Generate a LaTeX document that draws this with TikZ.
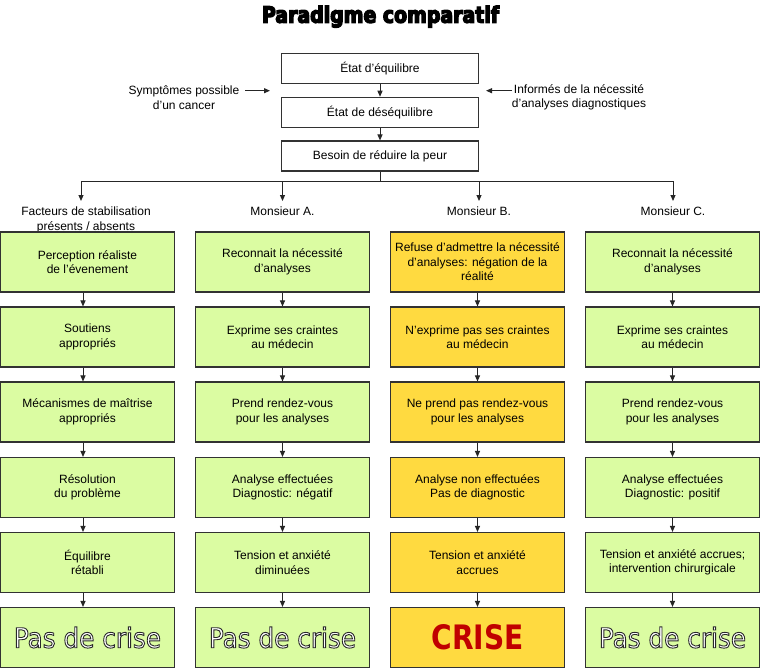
\documentclass[tikz,border=0pt]{standalone}
\usepackage{fontspec}
\usepackage{graphicx}
\setmainfont{Liberation Sans}
\newfontfamily\condfont{DejaVu Sans Condensed}
\usetikzlibrary{arrows.meta}
\definecolor{boxgreen}{RGB}{219,252,162}
\definecolor{boxyellow}{RGB}{255,218,64}
\definecolor{edgec}{RGB}{50,50,50}
\definecolor{crisered}{RGB}{192,0,0}
\newcommand\pdcOutline[1]{{\color{white}%
  \special{pdf:literal direct 2 Tr 0.9 w 0.16 0.16 0.16 RG}%
  #1%
  \special{pdf:literal direct 0 Tr}}}
\newcommand\pdcHeavy[1]{{%
  \special{pdf:literal direct 2 Tr 0.7 w 0 0 0 RG}%
  #1%
  \special{pdf:literal direct 0 Tr}}}
\newcommand\pasdecrise{\pdcOutline{\condfont\fontsize{27.5}{30}\selectfont Pas de crise}}
\begin{document}
\begin{tikzpicture}[x=1pt,y=-1pt,
  every node/.style={font=\fontsize{12}{14.5}\selectfont},
  topbox/.style={draw=edgec,line width=1.1pt,fill=white,minimum width=197pt,minimum height=30pt,inner sep=0pt},
  gbox/.style={draw=edgec,line width=1.1pt,fill=boxgreen,minimum width=174pt,minimum height=60pt,inner sep=0pt,align=center},
  ybox/.style={gbox,fill=boxyellow},
  hdr/.style={anchor=north,inner xsep=0pt,inner ysep=6pt,align=center},
  side/.style={align=center,inner sep=0pt},
  conn/.style={draw=black!85,line width=1pt},
  arr/.style={conn,-{Triangle[length=6pt,width=5pt]}},
]
\useasboundingbox[fill=white] (0,0) rectangle (761,669);

% title
\node[inner sep=0pt,anchor=base] (title) at (380.5,22.7)
  {\resizebox{237pt}{17pt}{\pdcHeavy{\condfont\bfseries Paradigme comparatif}}};

% top chain
\node[topbox] (t1) at (380,68.3) {État d'équilibre};
\node[topbox] (t2) at (380,112.3) {État de déséquilibre};
\node[topbox] (t3) at (380,156) {Besoin de réduire la peur};
\draw[arr] (t1.south) -- (t2.north);
\draw[arr] (t2.south) -- (t3.north);

% side labels
\node[side] (sl) at (184,97.5) {Symptômes possible\\d’un cancer};
\coordinate (sla) at (245,90.7);
\coordinate (slb) at (270,90.7);
\draw[arr] (sla) -- (slb);
\node[side] (sr) at (579,97.5) {Informés de la nécessité\\d’analyses diagnostiques};
\coordinate (sra) at (512,90.7);
\coordinate (srb) at (486,90.7);
\draw[arr] (sra) -- (srb);

% distribution
\coordinate (j) at (380,181);
\coordinate (c1) at (81,181);
\coordinate (c2) at (282.5,181);
\coordinate (c3) at (479,181);
\coordinate (c4) at (673,181);
\draw[conn] (t3.south) -- (j);
\draw[conn] (c1) -- (c4);

\node[hdr] (h1) at (86,201) {Facteurs de stabilisation\\présents / absents};
\node[hdr] (h2) at (282.5,201) {Monsieur A.};
\node[hdr] (h3) at (479,201) {Monsieur B.};
\node[hdr] (h4) at (673,201) {Monsieur C.};
\draw[arr] (c1) -- (c1 |- h1.north);
\draw[arr] (c2) -- (c2 |- h2.north);
\draw[arr] (c3) -- (c3 |- h3.north);
\draw[arr] (c4) -- (c4 |- h4.north);

% column 1
\node[gbox] (a1) at (87.5,262) {Perception réaliste\\de l’évenement};
\node[gbox] (a2) at (87.5,337) {Soutiens\\appropriés};
\node[gbox] (a3) at (87.5,412) {Mécanismes de maîtrise\\appropriés};
\node[gbox] (a4) at (87.5,487.5) {Résolution\\du problème};
\node[gbox] (a5) at (87.5,562.5) {Équilibre\\rétabli};
\node[gbox] (a6) at (87.5,637.5) {\pasdecrise};

% column 2
\node[gbox] (b1) at (282.5,262) {Reconnait la nécessité\\d’analyses};
\node[gbox] (b2) at (282.5,337) {Exprime ses craintes\\au médecin};
\node[gbox] (b3) at (282.5,412) {Prend rendez-vous\\pour les analyses};
\node[gbox] (b4) at (282.5,487.5) {Analyse effectuées\\Diagnostic: négatif};
\node[gbox] (b5) at (282.5,562.5) {Tension et anxiété\\diminuées};
\node[gbox] (b6) at (282.5,637.5) {\pasdecrise};

% column 3
\node[ybox] (y1) at (477.5,262) {Refuse d’admettre la nécessité\\d’analyses: négation de la\\réalité};
\node[ybox] (y2) at (477.5,337) {N’exprime pas ses craintes\\au médecin};
\node[ybox] (y3) at (477.5,412) {Ne prend pas rendez-vous\\pour les analyses};
\node[ybox] (y4) at (477.5,487.5) {Analyse non effectuées\\Pas de diagnostic};
\node[ybox] (y5) at (477.5,562.5) {Tension et anxiété\\accrues};
\node[ybox] (y6) at (477.5,637.5) {\color{crisered}\resizebox{92pt}{25pt}{\condfont\bfseries CRISE}};

% column 4
\node[gbox] (d1) at (672.5,262) {Reconnait la nécessité\\d’analyses};
\node[gbox] (d2) at (672.5,337) {Exprime ses craintes\\au médecin};
\node[gbox] (d3) at (672.5,412) {Prend rendez-vous\\pour les analyses};
\node[gbox] (d4) at (672.5,487.5) {Analyse effectuées\\Diagnostic: positif};
\node[gbox] (d5) at (672.5,562.5) {Tension et anxiété accrues;\\intervention chirurgicale};
\node[gbox] (d6) at (672.5,637.5) {\pasdecrise};

% arrows in columns
\foreach \p/\q in {a1/a2,a2/a3,a3/a4,a4/a5,a5/a6}
  \draw[arr] ([xshift=-4.5pt]\p.south) -- ([xshift=-4.5pt]\q.north);
\foreach \p/\q in {b1/b2,b2/b3,b3/b4,b4/b5,b5/b6,y1/y2,y2/y3,y3/y4,y4/y5,y5/y6,d1/d2,d2/d3,d3/d4,d4/d5,d5/d6}
  \draw[arr] (\p.south) -- (\q.north);
\end{tikzpicture}
\end{document}
